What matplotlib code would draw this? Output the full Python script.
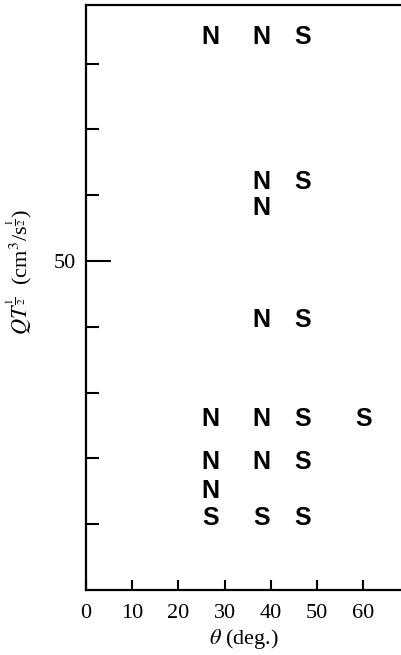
import matplotlib.pyplot as plt

# regime observations: angle (deg), Q*T^(1/2), symbol
theta = [27, 38, 47,
         38, 47,
         38,
         38, 47,
         27, 38, 47, 60,
         27, 38, 47,
         27,
         27, 38, 47]
qt = [84, 84, 84,
      62, 62,
      58,
      41, 41,
      26, 26, 26, 26,
      19.5, 19.5, 19.5,
      15,
      11, 11, 11]
regime = ['N', 'N', 'S',
          'N', 'S',
          'N',
          'N', 'S',
          'N', 'N', 'S', 'S',
          'N', 'N', 'S',
          'N',
          'S', 'S', 'S']

x_ticks = [0, 10, 20, 30, 40, 50, 60]
y_major = [50]
y_minor = [10, 20, 30, 40, 60, 70, 80]

plt.rcParams['mathtext.fontset'] = 'stix'
serif = 'Liberation Serif'

fig = plt.figure(figsize=(4.01, 6.55), dpi=100)
ax = fig.add_axes([86 / 401, 1 - 590 / 655, 315 / 401, 585 / 655])
ax.set_xlim(0, 68.2)
ax.set_ylim(0, 88.9)

for x, y, s in zip(theta, qt, regime):
    ax.text(x, y, s, ha='center', va='center', fontsize=18,
            fontweight='bold', family='Liberation Sans', color='black')

ax.spines['right'].set_visible(False)
for side in ['left', 'bottom', 'top']:
    ax.spines[side].set_linewidth(1.6)

ax.set_xticks(x_ticks)
ax.set_xticklabels([str(v) for v in x_ticks], family=serif, fontsize=16)
ax.set_yticks(y_major)
ax.set_yticklabels([str(v) for v in y_major], family=serif, fontsize=16)
ax.set_yticks(y_minor, minor=True)
ax.tick_params(axis='x', direction='in', length=7, width=1.5, pad=10)
ax.tick_params(axis='y', which='major', direction='in', length=18, width=1.5, pad=7)
ax.tick_params(axis='y', which='minor', direction='in', length=9, width=1.5)

ax.set_xlabel(r'$\theta$ (deg.)', family=serif, fontsize=16, labelpad=3)
ax.set_ylabel(r'$QT^{\frac{1}{2}}$  (cm$^3$/s$^{\frac{1}{2}}$)', family=serif, fontsize=16)
ax.yaxis.set_label_coords(-0.165, 0.544)

fig.savefig('out.png', dpi=100)
